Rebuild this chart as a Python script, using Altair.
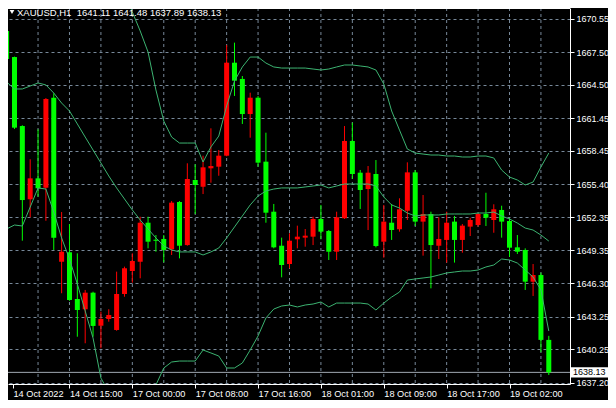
import altair as alt
import pandas as pd

symbol = "XAUUSD,H1"

opens = [1669.45, 1667.06, 1660.73, 1654.01, 1655.93, 1655.07, 1663.33, 1648.28, 1649.15, 1644.86,
         1643.92, 1645.44, 1642.41, 1643.03, 1642.02, 1645.32, 1647.43, 1648.28, 1651.86, 1650.30,
         1650.37, 1649.42, 1653.76, 1649.81, 1655.78, 1655.16, 1656.85, 1657.00, 1658.01, 1666.54,
         1665.05, 1661.83, 1663.33, 1657.46, 1652.87, 1649.75, 1648.07, 1650.34, 1650.49, 1650.58,
         1652.20, 1651.10, 1649.20, 1652.27, 1659.36, 1656.45, 1654.95, 1656.33, 1650.12, 1651.86,
         1651.26, 1652.96, 1656.48, 1651.96, 1652.66, 1649.75, 1650.28, 1651.96, 1650.28, 1651.50,
         1651.65, 1652.66, 1652.11, 1653.03, 1652.02, 1649.60, 1649.36, 1646.45, 1647.06, 1641.11]

highs = [1670.30, 1667.10, 1660.80, 1657.68, 1660.43, 1663.30, 1663.73, 1652.84, 1651.74, 1649.05,
         1645.69, 1645.53, 1643.70, 1643.92, 1647.37, 1647.83, 1649.05, 1652.41, 1652.41, 1650.73,
         1650.73, 1653.85, 1653.85, 1657.31, 1657.22, 1658.01, 1660.52, 1658.53, 1668.16, 1668.38,
         1665.32, 1663.79, 1663.49, 1660.12, 1653.58, 1650.49, 1650.89, 1651.59, 1651.28, 1652.41,
         1653.49, 1651.19, 1652.87, 1660.73, 1661.04, 1656.70, 1657.06, 1657.61, 1653.49, 1653.58,
         1654.10, 1657.40, 1656.70, 1654.40, 1652.87, 1652.36, 1652.87, 1652.48, 1651.74, 1652.32,
         1652.72, 1654.61, 1653.55, 1653.42, 1652.27, 1650.73, 1649.51, 1648.07, 1647.27, 1641.48]

lows = [1663.58, 1660.46, 1650.21, 1652.36, 1654.25, 1652.04, 1649.36, 1645.39, 1644.70, 1641.40,
        1640.80, 1641.40, 1640.34, 1642.78, 1641.95, 1645.07, 1646.36, 1646.76, 1649.51, 1649.20,
        1648.23, 1648.90, 1648.59, 1649.75, 1652.66, 1654.49, 1655.53, 1656.17, 1657.95, 1663.49,
        1660.92, 1659.66, 1657.00, 1651.86, 1649.51, 1646.85, 1647.68, 1649.51, 1649.66, 1649.81,
        1650.34, 1648.44, 1648.44, 1652.20, 1655.87, 1653.12, 1651.19, 1649.60, 1648.65, 1650.28,
        1651.04, 1652.11, 1651.56, 1648.84, 1645.84, 1648.53, 1648.20, 1648.20, 1649.11, 1650.64,
        1651.50, 1651.56, 1650.94, 1650.49, 1648.74, 1648.99, 1645.69, 1645.14, 1639.97, 1637.89]

closes = [1666.88, 1660.58, 1653.94, 1655.93, 1655.02, 1663.21, 1650.49, 1649.20, 1644.77, 1643.85,
          1645.44, 1642.39, 1643.03, 1643.39, 1645.32, 1647.68, 1648.35, 1651.86, 1650.12, 1650.20,
          1649.36, 1653.70, 1649.75, 1655.87, 1655.32, 1656.94, 1657.06, 1658.01, 1666.54, 1664.89,
          1661.83, 1663.33, 1657.37, 1652.78, 1649.60, 1647.98, 1650.21, 1650.58, 1650.67, 1652.20,
          1651.04, 1649.20, 1652.36, 1659.36, 1656.33, 1654.86, 1656.45, 1649.72, 1651.96, 1651.19,
          1653.09, 1656.48, 1651.96, 1652.66, 1649.81, 1650.37, 1651.86, 1650.28, 1651.59, 1652.11,
          1652.66, 1652.32, 1653.09, 1651.96, 1649.57, 1649.20, 1646.45, 1647.06, 1641.11, 1638.13]

bb_upper = [1678.25, 1676.60, 1676.70, 1675.50, 1674.31, 1674.03, 1674.68, 1675.23, 1675.69, 1675.60,
            1675.69, 1675.78, 1677.06, 1675.96, 1674.59, 1673.03, 1671.19, 1669.45, 1667.52, 1664.04,
            1661.19, 1659.72, 1659.17, 1659.17, 1659.17, 1657.43, 1658.81, 1659.81, 1662.57, 1664.86,
            1666.15, 1667.06, 1667.06, 1666.51, 1666.15, 1666.05, 1666.05, 1666.05, 1666.05, 1665.96,
            1665.87, 1665.96, 1666.15, 1666.33, 1666.33, 1666.24, 1666.15, 1665.87, 1664.59, 1662.11,
            1660.36, 1658.62, 1658.25, 1658.16, 1658.07, 1658.07, 1657.98, 1657.98, 1657.89, 1657.89,
            1657.98, 1657.98, 1657.80, 1656.69, 1656.05, 1655.78, 1655.32, 1655.59, 1656.97, 1658.25]

bb_middle = [1664.77, 1664.13, 1664.13, 1664.40, 1664.68, 1664.50, 1663.76, 1662.84, 1662.11, 1660.92,
             1659.72, 1658.53, 1657.34, 1656.15, 1655.05, 1654.04, 1653.03, 1652.11, 1651.29, 1650.46,
             1649.73, 1649.36, 1649.18, 1649.18, 1649.18, 1648.90, 1649.18, 1649.54, 1650.46, 1651.47,
             1652.48, 1653.49, 1654.31, 1654.77, 1654.95, 1655.05, 1655.05, 1655.05, 1655.14, 1655.23,
             1655.32, 1655.05, 1655.23, 1655.41, 1655.41, 1655.41, 1655.41, 1655.23, 1654.22, 1653.49,
             1653.21, 1652.75, 1652.48, 1652.57, 1652.57, 1652.57, 1652.66, 1652.66, 1652.66, 1652.66,
             1652.75, 1652.75, 1652.84, 1652.48, 1652.20, 1651.83, 1651.37, 1651.19, 1650.73, 1650.18]

bb_lower = [1651.29, 1651.65, 1651.56, 1653.30, 1655.05, 1654.95, 1652.84, 1650.46, 1648.53, 1646.24,
            1643.76, 1641.28, 1637.61, 1636.33, 1635.50, 1635.05, 1634.86, 1634.77, 1635.05, 1636.97,
            1638.53, 1639.08, 1639.17, 1639.17, 1639.17, 1640.18, 1639.91, 1639.63, 1638.53, 1638.53,
            1638.99, 1640.18, 1641.47, 1643.12, 1643.94, 1644.22, 1644.31, 1644.13, 1644.31, 1644.40,
            1644.59, 1644.13, 1644.49, 1644.49, 1644.49, 1644.49, 1644.40, 1643.85, 1644.49, 1645.04,
            1645.50, 1646.60, 1646.70, 1646.79, 1646.88, 1647.06, 1647.25, 1647.34, 1647.43, 1647.43,
            1647.52, 1647.80, 1647.98, 1648.53, 1648.44, 1648.16, 1647.52, 1646.88, 1645.69, 1641.92]

x_label_idx = [0, 8, 16, 24, 32, 40, 48, 56, 64]
x_labels = ["14 Oct 2022", "14 Oct 15:00", "17 Oct 00:00", "17 Oct 08:00", "17 Oct 16:00",
            "18 Oct 01:00", "18 Oct 09:00", "18 Oct 17:00", "19 Oct 02:00"]
grid_idx = [4, 8, 12, 16, 20, 24, 28, 32, 36, 40, 44, 48, 52, 56, 60, 64, 68]
y_ticks = [1670.55, 1667.50, 1664.50, 1661.45, 1658.45, 1655.40, 1652.35, 1649.35,
           1646.30, 1643.25, 1640.25, 1637.20]

FONT = "Liberation Sans"
GRID = "#778899"
BAND = "#3CB371"
BULL = "#FF0000"
BEAR = "#00FF00"

W, H = 562, 376
X0, X1 = 0.8125, 71.0625
Y0, Y1 = 1637.063, 1671.559

n = len(opens)
df = pd.DataFrame({"i": list(range(n)), "o": opens, "h": highs, "l": lows, "c": closes,
                   "up": bb_upper, "mid": bb_middle, "lo": bb_lower})
df["dir"] = ["bull" if c >= o else "bear" for o, c in zip(opens, closes)]

xs = alt.Scale(domain=[X0, X1], nice=False, zero=False)
ys = alt.Scale(domain=[Y0, Y1], nice=False, zero=False)

label_vals = [max(float(v), X0) for v in x_label_idx]
expr = " : ".join(f"datum.value == {v} ? '{lab}'" for v, lab in zip(label_vals, x_labels)) + " : ''"

x_axis = alt.Axis(values=label_vals, labelExpr=expr, orient="bottom", grid=False,
                  domainColor="white", domainWidth=1, tickColor="white", tickSize=4, tickWidth=1,
                  labelColor="white", labelFont=FONT, labelFontSize=9.2, labelAlign="left",
                  labelBaseline="top", labelPadding=1, labelFlush=False, labelOverlap=False,
                  title=None)
y_axis = alt.Axis(values=y_ticks, format=".2f", orient="right", grid=True, gridColor=GRID,
                  gridDash=[3, 3], gridWidth=1, domainColor="white", domainWidth=1,
                  tickColor="white", tickSize=4, labelColor="white", labelFont=FONT,
                  labelFontSize=9, labelPadding=2, labelOverlap=False, labelFlush=False,
                  title=None)

color_enc = alt.Color("dir:N", scale=alt.Scale(domain=["bull", "bear"], range=[BULL, BEAR]), legend=None)


def X(field):
    return alt.X(field, scale=xs, axis=x_axis, title=None)


def Y(field):
    return alt.Y(field, scale=ys, axis=y_axis, title=None)


vgrid = alt.Chart(pd.DataFrame({"g": grid_idx})).mark_rule(
    color=GRID, strokeDash=[3, 3], strokeWidth=1, clip=True
).encode(x=X("g:Q"))

price_line = alt.Chart(pd.DataFrame({"p": [closes[-1]]})).mark_rule(
    color="#A0A8B2", strokeWidth=1
).encode(y=Y("p:Q"))

base = alt.Chart(df)
wicks = base.mark_rule(strokeWidth=1, clip=True).encode(
    x=X("i:Q"), y=Y("l:Q"), y2="h:Q", color=color_enc)
bodies = base.mark_bar(size=5, clip=True).encode(
    x=X("i:Q"), y=Y("o:Q"), y2="c:Q", color=color_enc)

bands = [base.mark_line(color=BAND, strokeWidth=1, clip=True).encode(
    x=X("i:Q"), y=Y(f"{col}:Q")) for col in ["up", "mid", "lo"]]

top_border = alt.Chart(pd.DataFrame({"a": [0]})).mark_rule(color="white", strokeWidth=1).encode(
    x=alt.value(0), x2=alt.value(W), y=alt.value(0.5))

box = alt.Chart(pd.DataFrame({"p": [closes[-1]]})).transform_calculate(
    p1="datum.p + 0.46", p2="datum.p - 0.46"
).mark_rect(color="white").encode(
    x=alt.value(W + 1), x2=alt.value(W + 40),
    y=Y("p1:Q"), y2="p2:Q")

box_text = alt.Chart(pd.DataFrame({"p": [closes[-1]]})).mark_text(
    align="left", baseline="middle", color="black", font=FONT, fontSize=9
).encode(x=alt.value(W + 3), y=Y("p:Q"),
         text=alt.Text("p:Q", format=".2f"))

title_str = f"{symbol}\u00a0\u00a0{opens[-1]:.2f} {highs[-1]:.2f} {lows[-1]:.2f} {closes[-1]:.2f}"
title = alt.Chart(pd.DataFrame({"t": [title_str]})).mark_text(
    align="left", baseline="alphabetic", color="white", font=FONT, fontSize=9.5
).encode(x=alt.value(9), y=alt.value(8), text="t:N")

tri = alt.Chart(pd.DataFrame({"a": [0]})).mark_point(
    shape="triangle-down", filled=True, color="white", size=22, opacity=1
).encode(x=alt.value(4), y=alt.value(4))

chart = alt.layer(
    vgrid, price_line, wicks, bodies, *bands, top_border, box, box_text, title, tri
).properties(
    width=W, height=H, background="black",
    padding={"left": 0, "top": 0, "right": 38, "bottom": 16},
    autosize=alt.AutoSizeParams(type="none"),
).configure_view(strokeWidth=0)

chart.save("out.html", embed_options={"renderer": "svg", "actions": False})
